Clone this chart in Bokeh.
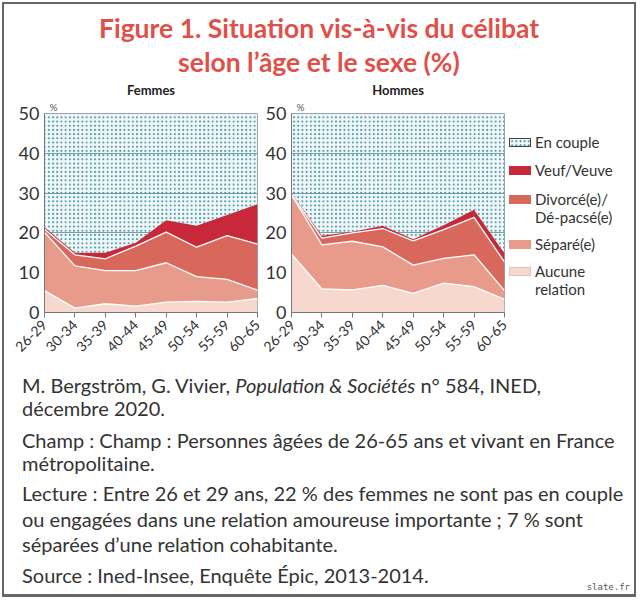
from bokeh.plotting import figure
from bokeh.models import ColumnDataSource, FixedTicker, Title, Div
from bokeh.layouts import column, row
from bokeh.embed import file_html
from bokeh.resources import INLINE
from bokeh.transform import stack

# ---------------- data ----------------
age_groups = ["26-29", "30-34", "35-39", "40-44", "45-49", "50-54", "55-59", "60-65"]
legend_labels = ["En couple", "Veuf/Veuve", "Divorcé(e)/<br>Dé-pacsé(e)",
                 "Séparé(e)", "Aucune<br>relation"]

femmes_aucune = [5.5, 1.1, 2.2, 1.6, 2.6, 2.8, 2.6, 3.5]
femmes_separe = [14.7, 10.6, 8.3, 8.9, 9.9, 6.2, 5.7, 2.1]
femmes_divorce = [0.7, 2.8, 3.0, 6.2, 7.7, 7.4, 11.0, 11.6]
femmes_veuf = [0.5, 0.5, 1.5, 0.8, 3.0, 5.4, 5.2, 10.0]

hommes_aucune = [14.7, 5.9, 5.7, 6.8, 4.8, 7.4, 6.5, 3.3]
hommes_separe = [14.8, 11.1, 12.2, 9.7, 7.1, 6.2, 8.0, 2.2]
hommes_divorce = [0.2, 1.7, 2.1, 4.6, 6.1, 7.2, 9.4, 7.2]
hommes_veuf = [0.3, 0.6, 0.3, 0.7, 0.4, 1.1, 1.9, 2.1]

y_ticks = [0, 10, 20, 30, 40, 50]
y_max = 50

# aucune, séparé, divorcé, veuf
colors = ["#f6d8cf", "#e89a8b", "#d8675c", "#c8293a"]
BG = "#f0f8fa"
DOT = "#5298a8"
TXT = "#333333"
FONT = "Lato"
EDGE = "2px solid #666666"


def make_panel(title, aucune, separe, divorce, veuf, width, left, right):
    n = len(age_groups)
    xs = list(range(n))
    src = ColumnDataSource(dict(x=xs, a=aucune, s=separe, d=divorce, v=veuf,
                                top=[y_max] * n))
    p = figure(width=width, height=284, x_range=(0, n - 1), y_range=(0, y_max),
               output_backend="svg", toolbar_location=None,
               min_border_left=left, min_border_right=right,
               min_border_top=36, min_border_bottom=49,
               background_fill_color=BG, border_fill_alpha=0,
               outline_line_color="#9aa7ab", outline_line_width=1)
    p.add_layout(Title(text="%", align="left", offset=5, standoff=1,
                       text_font=FONT, text_font_size="10px",
                       text_font_style="normal", text_color="#555555"), "above")
    p.add_layout(Title(text=title, align="center", standoff=1,
                       text_font=FONT, text_font_size="13px",
                       text_font_style="bold", text_color="#222222"), "above")

    p.varea_stack(stackers=["a", "s", "d", "v"], x="x", source=src, color=colors)
    p.varea(x="x", y1=stack("a", "s", "d", "v"), y2="top", source=src,
            fill_color=BG, fill_alpha=0.0, hatch_pattern=".",
            hatch_color=DOT, hatch_scale=4.2, hatch_weight=1)
    for levels in (("a",), ("a", "s"), ("a", "s", "d")):
        p.line(x="x", y=stack(*levels), source=src, line_color="white",
               line_width=1.3)

    p.xaxis.ticker = FixedTicker(ticks=xs)
    p.xaxis.major_label_overrides = {i: g for i, g in enumerate(age_groups)}
    p.xaxis.major_label_orientation = 0.785
    p.xaxis.major_label_text_font = FONT
    p.xaxis.major_label_text_font_size = "14px"
    p.xaxis.major_label_text_color = TXT
    p.xaxis.major_tick_in = 0
    p.xaxis.major_tick_out = 5
    p.xaxis.major_tick_line_color = "#777777"
    p.xaxis.axis_line_color = "#777777"
    p.xaxis.minor_tick_line_color = None

    p.yaxis.ticker = FixedTicker(ticks=y_ticks)
    p.yaxis.major_label_text_font = FONT
    p.yaxis.major_label_text_font_size = "18px"
    p.yaxis.major_label_text_color = TXT
    p.yaxis.major_tick_in = 0
    p.yaxis.major_tick_out = 0
    p.yaxis.minor_tick_line_color = None
    p.yaxis.axis_line_color = "#777777"

    p.xgrid.grid_line_color = None
    p.ygrid.grid_line_color = "#5f8791"
    p.ygrid.grid_line_width = 1
    p.ygrid.grid_line_alpha = 0.8
    return p


pf = make_panel("Femmes", femmes_aucune, femmes_separe, femmes_divorce,
                femmes_veuf, 262, 44, 5)
ph = make_panel("Hommes", hommes_aucune, hommes_separe, hommes_divorce,
                hommes_veuf, 247, 29, 5)

# ---- legend (HTML, same order as the reference) ----
swatches = [
    "background:%s radial-gradient(circle,%s 0.9px,transparent 1.2px) 0 0/4.2px 4.2px;"
    "border:1px solid #444444;" % (BG, DOT),
    "background:%s;" % colors[3],
    "background:%s;" % colors[2],
    "background:%s;" % colors[1],
    "background:%s;border:1px solid #e2c2b9;" % colors[0],
]
centers = [65.0, 93.0, 122.0, 167.0, 194.0]
leg_html = '<div style="position:relative;width:129px;height:284px;">'
for lab, sw, cy in zip(legend_labels, swatches, centers):
    leg_html += ('<div style="position:absolute;left:0px;top:%.1fpx;width:22px;'
                 'height:9px;box-sizing:border-box;%s"></div>' % (cy - 4.5, sw))
    leg_html += ('<div style="position:absolute;left:26px;top:%.1fpx;'
                 'font-family:Lato;font-size:15px;line-height:18px;color:%s;'
                 'white-space:nowrap;">%s</div>' % (cy - 9, TXT, lab))
leg_html += ('<div style="position:absolute;right:2px;top:0;width:0;height:284px;'
             'border-right:%s;"></div>' % EDGE)
leg_html += '</div>'
legend_div = Div(text=leg_html, width=129, height=284, margin=0)

title_html = (
    '<div style="position:relative;width:638px;height:77px;">'
    '<div style="position:absolute;left:2px;top:2px;width:634px;height:75px;'
    'box-sizing:border-box;border:%s;border-bottom:none;"></div>'
    '<div style="position:absolute;left:0;top:11px;width:638px;text-align:center;'
    'font-family:Lato;font-weight:bold;font-size:26.5px;line-height:34px;color:#e0504a;">'
    'Figure 1. Situation vis-à-vis du célibat<br>selon l’âge et le sexe (%%)</div></div>' % EDGE)
title_div = Div(text=title_html, width=638, height=77, margin=0)

txt_style = ("position:absolute;left:22px;font-family:Lato;font-size:20px;"
             "line-height:23px;color:#333333;white-space:nowrap;")
text_html = (
    '<div style="position:relative;width:638px;height:237px;">'
    '<div style="position:absolute;left:2px;top:0;width:634px;height:236px;'
    'box-sizing:border-box;border:' + EDGE + ';border-top:none;"></div>'
    '<div style="' + txt_style + 'top:12.5px;">M. Bergström, G. Vivier, <i>Population &amp; Sociétés</i> n° 584, INED,<br>décembre 2020.</div>'
    '<div style="' + txt_style + 'top:67.5px;">Champ : Champ : Personnes âgées de 26-65 ans et vivant en France<br>métropolitaine.</div>'
    '<div style="' + txt_style + 'top:120px;line-height:25.5px;">Lecture : Entre 26 et 29 ans, 22 % des femmes ne sont pas en couple<br>ou engagées dans une relation amoureuse importante ; 7 % sont<br>séparées d’une relation cohabitante.</div>'
    '<div style="' + txt_style + 'top:202.5px;">Source : Ined-Insee, Enquête Épic, 2013-2014.</div>'
    '<div style="position:absolute;right:8px;top:221px;font-family:DejaVu Sans Mono;'
    'font-size:9px;line-height:11px;color:#555555;">slate.fr</div>'
    '</div>')
text_div = Div(text=text_html, width=638, height=237, margin=0)

layout = column(title_div, row(pf, ph, legend_div), text_div,
                styles={"outline": EDGE, "outline-offset": "-4px"})

open("out.html", "w").write(file_html(layout, INLINE))
